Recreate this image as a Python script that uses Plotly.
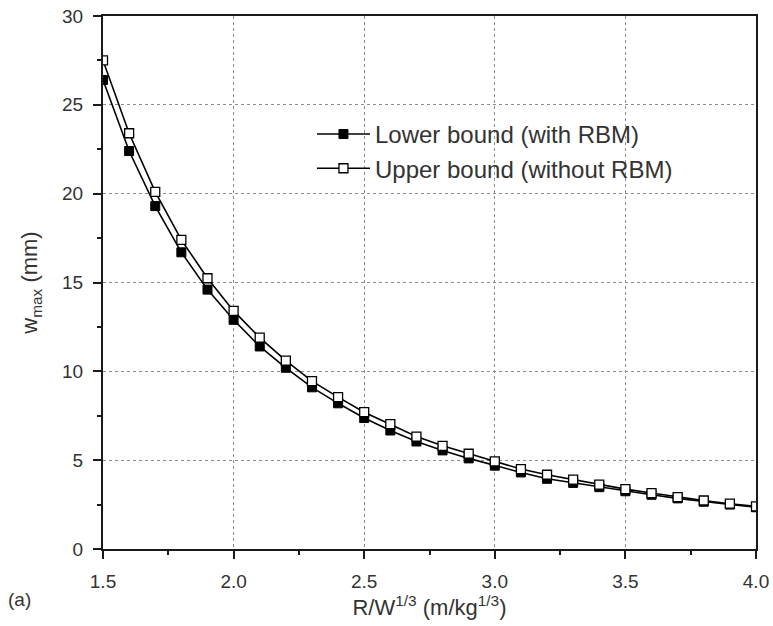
import plotly.graph_objects as go

x_vals = [1.5, 1.6, 1.7, 1.8, 1.9, 2.0, 2.1, 2.2, 2.3, 2.4, 2.5, 2.6, 2.7,
          2.8, 2.9, 3.0, 3.1, 3.2, 3.3, 3.4, 3.5, 3.6, 3.7, 3.8, 3.9, 4.0]
lower_with_rbm = [26.4, 22.4, 19.3, 16.7, 14.6, 12.9, 11.4, 10.2, 9.1, 8.2,
                  7.37, 6.67, 6.05, 5.55, 5.1, 4.69, 4.31, 3.95, 3.72, 3.48,
                  3.25, 3.05, 2.85, 2.66, 2.5, 2.35]
upper_without_rbm = [27.5, 23.4, 20.1, 17.4, 15.24, 13.4, 11.9, 10.6, 9.45, 8.55,
                     7.7, 7.03, 6.33, 5.81, 5.36, 4.93, 4.5, 4.18, 3.9, 3.62,
                     3.37, 3.15, 2.92, 2.73, 2.55, 2.4]
series_names = ["Lower bound (with RBM)", "Upper bound (without RBM)"]

FONT = "Liberation Sans, Arial, sans-serif"
TXT = "#333333"
AX = "#1a1a1a"

fig = go.Figure()
fig.add_trace(go.Scatter(
    x=x_vals, y=lower_with_rbm, mode="lines+markers", name=series_names[0],
    line=dict(color="black", width=1.6),
    marker=dict(symbol="square", size=9, color="black",
                line=dict(color="black", width=1)),
))
fig.add_trace(go.Scatter(
    x=x_vals, y=upper_without_rbm, mode="lines+markers", name=series_names[1],
    line=dict(color="black", width=1.6),
    marker=dict(symbol="square", size=9, color="white",
                line=dict(color="black", width=1.3)),
))

common = dict(
    showline=True, linecolor=AX, linewidth=2, mirror=True,
    ticks="outside", ticklen=8, tickwidth=2, tickcolor=AX,
    showgrid=True, gridcolor="#8c8c8c", griddash="dot", gridwidth=1,
    zeroline=False, automargin=False, ticklabelstandoff=6,
    tickfont=dict(family=FONT, size=19, color=TXT),
)

fig.update_layout(
    template="none",
    width=773, height=626,
    margin=dict(l=103, r=17, t=16, b=77, autoexpand=False),
    paper_bgcolor="white", plot_bgcolor="white",
    showlegend=True,
    legend=dict(x=0.32, y=0.82, xanchor="left", yanchor="top",
                itemwidth=53,
                bgcolor="rgba(0,0,0,0)", tracegroupgap=0,
                font=dict(family=FONT, size=24, color=TXT)),
    xaxis=dict(
        range=[1.5, 4.0], tickmode="linear", dtick=0.5, tick0=1.5,
        tickformat=".1f",
        minor=dict(dtick=0.25, tick0=1.5, ticks="outside", ticklen=4,
                   tickwidth=2, tickcolor=AX, showgrid=False),
        title=dict(text="R/W<sup>1/3</sup> (m/kg<sup>1/3</sup>)",
                   font=dict(family=FONT, size=22, color=TXT), standoff=2),
        **common,
    ),
    yaxis=dict(
        range=[0, 30], tickmode="linear", dtick=5, tick0=0,
        minor=dict(dtick=2.5, tick0=0, ticks="outside", ticklen=4,
                   tickwidth=2, tickcolor=AX, showgrid=False),
        title=dict(text="w<sub>max</sub> (mm)",
                   font=dict(family=FONT, size=22, color=TXT), standoff=18),
        **common,
    ),
)

fig.add_annotation(text="(a)", x=-0.148, y=-0.095, xref="paper", yref="paper",
                   xanchor="left", yanchor="middle", showarrow=False,
                   font=dict(family=FONT, size=19, color=TXT))

fig.write_html("out.html", config={"displayModeBar": False},
               post_script="document.body.style.margin='0';document.body.style.padding='0';")
